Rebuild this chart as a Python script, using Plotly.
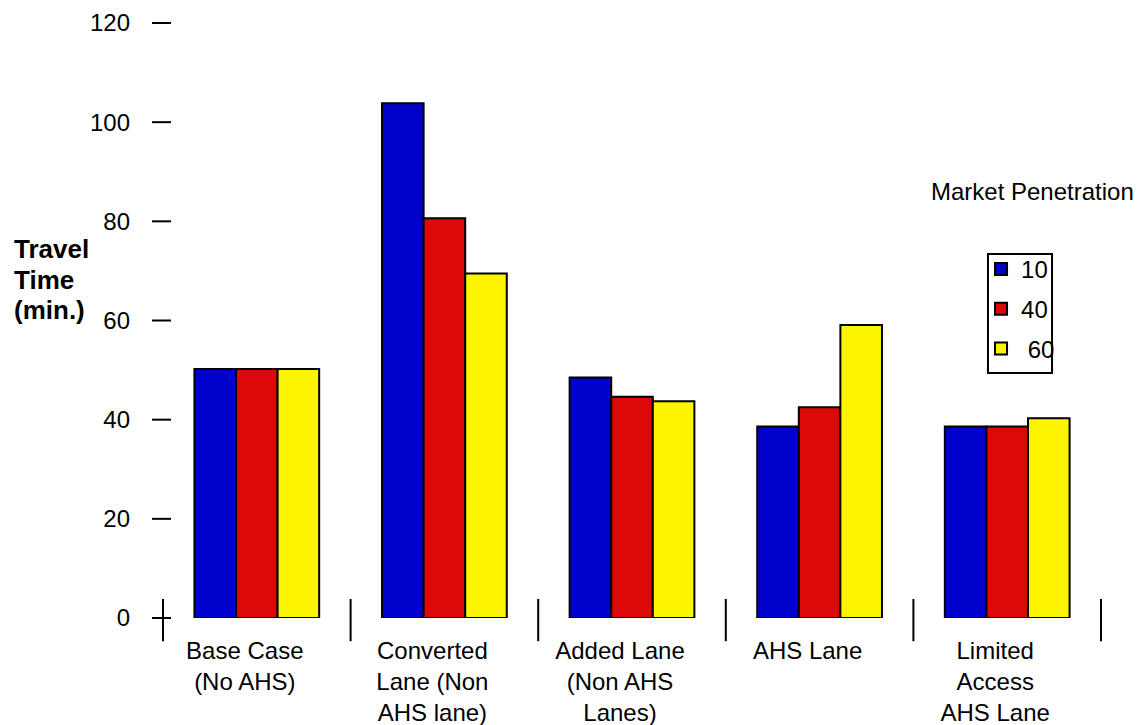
import plotly.graph_objects as go

categories = [
    "Base Case<br>(No AHS)",
    "Converted<br>Lane (Non<br>AHS lane)",
    "Added Lane<br>(Non AHS<br>Lanes)",
    "AHS Lane",
    "Limited<br>Access<br>AHS Lane",
]
series_names = ["10", "40", " 60"]
values_10 = [50.2, 103.8, 48.5, 38.6, 38.6]
values_40 = [50.2, 80.6, 44.6, 42.5, 38.6]
values_60 = [50.2, 69.5, 43.7, 59.1, 40.3]
colors = ["#0000cc", "#dd0808", "#fdf500"]
y_ticks = [0, 20, 40, 60, 80, 100, 120]
y_min, y_max = 0, 120
y_title_lines = ["Travel", "Time", "(min.)"]

FONT = "Liberation Sans, Arial, sans-serif"

fig = go.Figure()
for i, (name, vals) in enumerate(zip(series_names, [values_10, values_40, values_60])):
    fig.add_trace(go.Bar(
        x=categories, y=vals, name=name, legendgroup=f"g{i}",
        marker=dict(color=colors[i], line=dict(color="black", width=2)),
    ))

shapes = []
# cross tick marks on the value axis
for v in y_ticks:
    yp = (v - y_min) / (y_max - y_min)
    shapes.append(dict(type="line", xref="paper", yref="paper",
                       x0=-0.0117, x1=0.0085, y0=yp, y1=yp,
                       line=dict(color="black", width=2)))
# category boundary ticks
n = len(categories)
for i in range(n + 1):
    xp = i / n
    shapes.append(dict(type="line", xref="paper", yref="paper",
                       x0=xp, x1=xp, y0=0.032, y1=-0.039,
                       line=dict(color="black", width=2)))
# legend frame
shapes.append(dict(type="rect", xref="paper", yref="paper",
                   x0=0.8795, x1=0.9478, y0=0.4118, y1=0.6118,
                   line=dict(color="black", width=2), fillcolor="rgba(0,0,0,0)"))

annotations = []
for k, line in enumerate(y_title_lines):
    annotations.append(dict(
        text=f"<b>{line}</b>", xref="paper", yref="paper",
        x=-0.161, y=(618 - (249 + 30.5 * k)) / 595, xanchor="left", yanchor="middle",
        align="left", showarrow=False,
        font=dict(family=FONT, size=26, color="black")))
annotations.append(dict(
    text="Market Penetration", xref="paper", yref="paper",
    x=0.8165, y=0.7176, xanchor="left", yanchor="middle",
    showarrow=False, font=dict(family=FONT, size=24, color="black")))

fig.update_layout(
    width=1136, height=717,
    margin=dict(l=155, r=43, t=15, b=107, autoexpand=False),
    paper_bgcolor="white", plot_bgcolor="white",
    font=dict(family=FONT, size=24, color="black"),
    barmode="group", bargap=0.335, bargroupgap=0,
    showlegend=True,
    legend=dict(
        x=0.8721, y=0.6235, xanchor="left", yanchor="top",
        borderwidth=0, bgcolor="rgba(255,255,255,0)",
        font=dict(family=FONT, size=24, color="black"),
        tracegroupgap=5.5, traceorder="grouped",
    ),
    xaxis=dict(
        type="category", showline=False, showgrid=False, zeroline=False,
        ticks="", ticklabelstandoff=16, ticklabelshift=-12, automargin=False,
        tickfont=dict(family=FONT, size=24, color="black"),
    ),
    yaxis=dict(
        range=[y_min, y_max], tickvals=y_ticks, showline=False, showgrid=False,
        zeroline=False, ticks="", ticklabelstandoff=32, automargin=False,
        tickfont=dict(family=FONT, size=24, color="black"),
    ),
    shapes=shapes,
    annotations=annotations,
)

fig.write_html("out.html")
